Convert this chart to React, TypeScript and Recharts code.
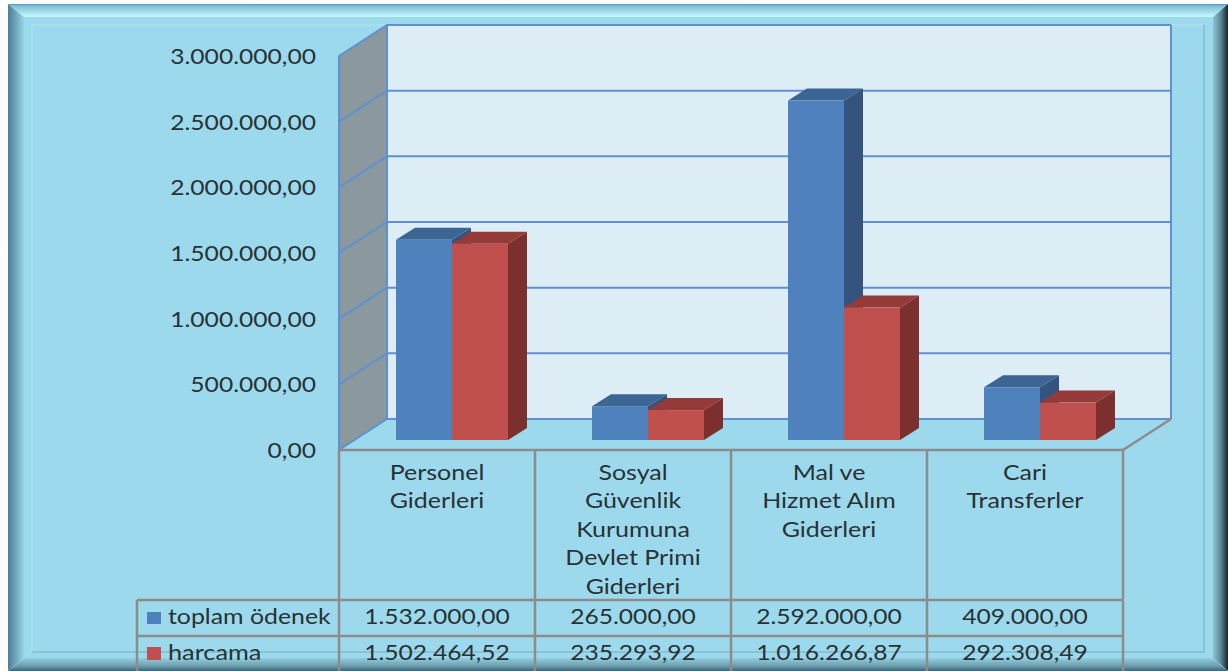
import { BarChart, Bar, XAxis, YAxis, usePlotArea } from "recharts";

const categories = ["Personel Giderleri", "Sosyal Güvenlik Kurumuna Devlet Primi Giderleri", "Mal ve Hizmet Alım Giderleri", "Cari Transferler"];
const categoryLines = [
  ["Personel", "Giderleri"],
  ["Sosyal", "Güvenlik", "Kurumuna", "Devlet Primi", "Giderleri"],
  ["Mal ve", "Hizmet Alım", "Giderleri"],
  ["Cari", "Transferler"],
];
const toplamOdenek = [1532000, 265000, 2592000, 409000];
const harcama = [1502464.52, 235293.92, 1016266.87, 292308.49];
const yTicks = [0, 500000, 1000000, 1500000, 2000000, 2500000, 3000000];

const data = categories.map((name, i) => ({ name, toplamOdenek: toplamOdenek[i], harcama: harcama[i] }));

const BLUE = "#4f81bd";
const RED = "#c0504d";
const GRID = "#5f90d3";
const TABLE = "#8c8c8c";
const TEXT = "#283236";
const FONT = "Lato, sans-serif";
const yMax = 3000000;

// wall depth of the fake 3d box
const DX = 48;
const DY = -31;

const fmt = (v: number) =>
  v.toLocaleString("tr-TR", { minimumFractionDigits: 2, maximumFractionDigits: 2 });

// the reference text is stretched sideways
function Wide(props: any) {
  const { x, y, sx = 1.12, size = 22, anchor = "middle", children } = props;
  return (
    <g transform={`translate(${x} ${y}) scale(${sx} 1)`}>
      <text x={0} y={0} fontFamily={FONT} fontSize={size} fill={TEXT} textAnchor={anchor}>{children}</text>
    </g>
  );
}

function Frame() {
  return (
    <g>
      <defs>
        <linearGradient id="bevelTop" x1="0" y1="0" x2="0" y2="1">
          <stop offset="0" stopColor="#5c8fc0" />
          <stop offset="0.15" stopColor="#7fbfd6" />
          <stop offset="1" stopColor="#c6fafd" />
        </linearGradient>
        <linearGradient id="bevelLeft" x1="0" y1="0" x2="1" y2="0">
          <stop offset="0" stopColor="#4d7f9c" />
          <stop offset="0.5" stopColor="#6fa6ba" />
          <stop offset="1" stopColor="#98d5e6" />
        </linearGradient>
        <linearGradient id="bevelRight" x1="0" y1="0" x2="1" y2="0">
          <stop offset="0" stopColor="#8cc4d3" />
          <stop offset="0.5" stopColor="#5d8b98" />
          <stop offset="1" stopColor="#14242a" />
        </linearGradient>
        <linearGradient id="bevelBottom" x1="0" y1="0" x2="0" y2="1">
          <stop offset="0" stopColor="#93cfe0" />
          <stop offset="0.6" stopColor="#6d9fb0" />
          <stop offset="1" stopColor="#3f6473" />
        </linearGradient>
      </defs>
      <rect x={24} y={17} width={1189} height={641} fill="#9dd9ec" />
      <polygon points="8,4 1228,4 1213,17 24,17" fill="url(#bevelTop)" />
      <polygon points="8,4 24,17 24,658 8,671" fill="url(#bevelLeft)" />
      <polygon points="1228,4 1213,17 1213,658 1228,671" fill="url(#bevelRight)" />
      <polygon points="24,658 1213,658 1228,671 8,671" fill="url(#bevelBottom)" />
      <path d="M32 652V25H1204" fill="none" stroke="#a9e2f0" strokeWidth={1.5} />
      <path d="M32 652H1204V25" fill="none" stroke="#84bccd" strokeWidth={1.5} />
    </g>
  );
}

function Walls() {
  const plot = usePlotArea();
  if (!plot) return null;
  const { x: left, y: top, width, height } = plot;
  const right = left + width;
  const bottom = top + height;
  const yOf = (v: number) => top + height * (1 - v / yMax);
  return (
    <g>
      <polygon
        points={`${left + DX},${top + DY} ${right + DX},${top + DY} ${right + DX},${bottom + DY} ${left + DX},${bottom + DY}`}
        fill="#dcedf5"
      />
      <polygon
        points={`${left},${top} ${left + DX},${top + DY} ${left + DX},${bottom + DY} ${left},${bottom}`}
        fill="#8b989d"
      />
      {yTicks.map((t) => (
        <path
          key={t}
          d={`M${left} ${yOf(t)}L${left + DX} ${yOf(t) + DY}H${right + DX}`}
          fill="none"
          stroke={GRID}
          strokeWidth={2}
        />
      ))}
      <path d={`M${left} ${bottom}V${top}`} stroke={GRID} strokeWidth={2} fill="none" />
      <path d={`M${left + DX} ${bottom + DY}V${top + DY}`} stroke={GRID} strokeWidth={2} fill="none" />
      <path d={`M${right + DX} ${bottom + DY}V${top + DY}`} stroke={GRID} strokeWidth={2} fill="none" />
      <path d={`M${right} ${bottom}L${right + DX} ${bottom + DY}`} stroke={TABLE} strokeWidth={2.5} fill="none" />
    </g>
  );
}

function Box3D(props: any) {
  const { x, y, width, height, fill, top, side } = props;
  if (!height) return null;
  // bars sit part way into the floor, not on the front edge
  const bx = x + 15;
  const by = y - 9;
  const h = height - 1;
  const dx = 19;
  const dy = -12;
  return (
    <g>
      <polygon
        points={`${bx + width},${by} ${bx + width + dx},${by + dy} ${bx + width + dx},${by + h + dy} ${bx + width},${by + h}`}
        fill={side}
      />
      <polygon
        points={`${bx},${by} ${bx + dx},${by + dy} ${bx + width + dx},${by + dy} ${bx + width},${by}`}
        fill={top}
      />
      <rect x={bx} y={by} width={width} height={h} fill={fill} />
    </g>
  );
}

function TableTick(props: any) {
  const { x, y, index, payload } = props;
  const half = 98;
  const rowA = 600;
  const rowB = 636;
  const lines = categoryLines[index] || [payload.value];
  return (
    <g>
      <path
        d={`M${x - half} ${y}H${x + half}M${x + half} ${y}V671M${x - half} ${rowA}H${x + half}M${x - half} ${rowB}H${x + half}`}
        stroke={TABLE}
        strokeWidth={2.5}
        fill="none"
      />
      {index === 0 && (
        <g>
          <path d={`M${x - half} ${y}V671M137 ${rowA}H${x - half}M137 ${rowB}H${x - half}M137 ${rowA}V671`} stroke={TABLE} strokeWidth={2.5} fill="none" />
          <rect x={147} y={612} width={14} height={12} fill={BLUE} />
          <rect x={147} y={647} width={14} height={13} fill={RED} />
          <Wide x={168} y={624} sx={1.13} anchor="start">toplam ödenek</Wide>
          <Wide x={168} y={660} sx={1.15} anchor="start">harcama</Wide>
        </g>
      )}
      {lines.map((line: string, i: number) => (
        <Wide key={i} x={x} y={480 + i * 28.4} sx={1.19} size={21}>{line}</Wide>
      ))}
      <Wide x={x} y={624}>{fmt(toplamOdenek[index])}</Wide>
      <Wide x={x} y={660}>{fmt(harcama[index])}</Wide>
    </g>
  );
}

function ValueTick(props: any) {
  const { x, y, payload } = props;
  return <Wide x={x} y={y + 8} anchor="end">{fmt(payload.value)}</Wide>;
}

export default function App() {
  return (
    <div style={{ position: "absolute", left: 0, top: 0, width: 1228, height: 671, overflow: "hidden", background: "#fff" }}>
      <BarChart
        width={1228}
        height={671}
        data={data}
        barSize={56}
        barGap={0}
        margin={{ top: 56, right: 105, bottom: 0, left: 0 }}
      >
        <Frame />
        <Walls />
        <XAxis
          dataKey="name"
          height={221}
          axisLine={false}
          tickLine={false}
          tickSize={0}
          tickMargin={0}
          interval={0}
          tick={<TableTick />}
        />
        <YAxis
          width={339}
          domain={[0, yMax]}
          ticks={yTicks}
          axisLine={false}
          tickLine={false}
          tickSize={0}
          tickMargin={23}
          tick={<ValueTick />}
        />
        <Bar dataKey="toplamOdenek" fill={BLUE} isAnimationActive={false} shape={(p: any) => <Box3D {...p} top="#3d6593" side="#34547f" />} />
        <Bar dataKey="harcama" fill={RED} isAnimationActive={false} shape={(p: any) => <Box3D {...p} top="#943b39" side="#7b302e" />} />
      </BarChart>
    </div>
  );
}
